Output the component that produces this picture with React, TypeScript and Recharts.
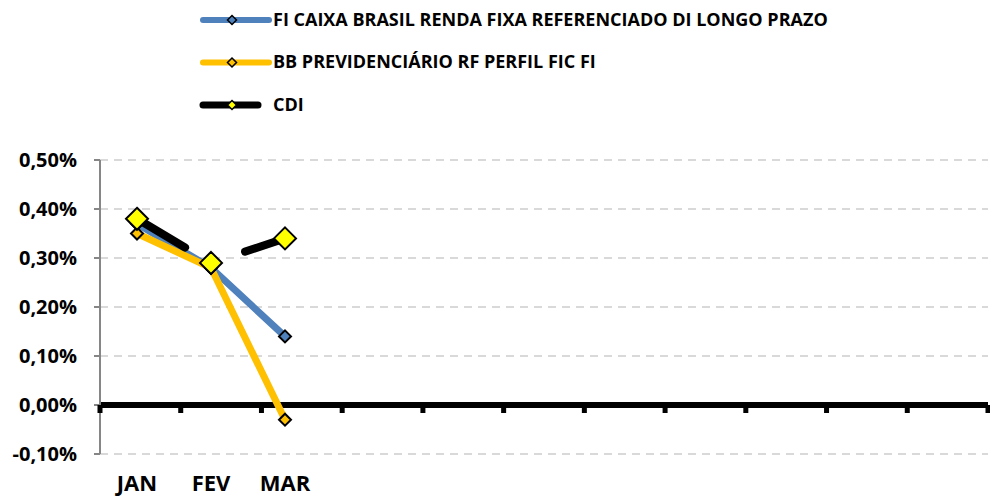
import { LineChart, Line, XAxis, YAxis, CartesianGrid, ReferenceLine, ReferenceDot } from 'recharts';

const months = ['JAN', 'FEV', 'MAR', 'ABR', 'MAI', 'JUN', 'JUL', 'AGO', 'SET', 'OUT', 'NOV', 'DEZ'];
const tickLabels = ['JAN', 'FEV', 'MAR', '', '', '', '', '', '', '', '', ''];
const caixa = [0.37, 0.28, 0.14];
const bbPrev = [0.35, 0.28, -0.03];
const cdi = [0.38, 0.29, 0.34];
const yTicks = [-0.1, 0, 0.1, 0.2, 0.3, 0.4, 0.5];
const seriesNames = [
  'FI CAIXA BRASIL RENDA FIXA REFERENCIADO DI LONGO PRAZO',
  'BB PREVIDENCIÁRIO RF PERFIL FIC FI',
  'CDI',
];

const data = months.map((m, i) => ({
  month: m,
  caixa: caixa[i] ?? null,
  bb: bbPrev[i] ?? null,
  cdi: cdi[i] ?? null,
}));
const boundaries = months.map((_, i) => i);

const FONT = '"Open Sans", Lato, sans-serif';
const fmt = (v: number) => v.toFixed(2).replace('.', ',') + '%';

const diamond = (size: number, fill: string, sw: number) => (props: any) => {
  const { cx, cy, index } = props;
  if (cx == null || cy == null) return <g key={index} />;
  const s = size / 2;
  return (
    <path
      key={index}
      d={`M${cx},${cy - s}L${cx + s},${cy}L${cx},${cy + s}L${cx - s},${cy}Z`}
      fill={fill}
      stroke="#000"
      strokeWidth={sw}
    />
  );
};

const legendRows = [
  { name: seriesNames[0], color: '#4F81BD', marker: '#4F81BD', end: 269, w: 6 },
  { name: seriesNames[1], color: '#FFC000', marker: '#FFC000', end: 269, w: 6 },
  { name: seriesNames[2], color: '#000000', marker: '#FFFF00', end: 258, w: 7 },
];

function Legend() {
  return (
    <svg width={990} height={130} style={{ position: 'absolute', left: 0, top: 0 }}>
      {legendRows.map((r, i) => {
        const y = 20 + i * 42.5;
        return (
          <g key={r.name}>
            <line x1={203} x2={r.end} y1={y} y2={y} stroke={r.color} strokeWidth={r.w} strokeLinecap="round" />
            <path d={`M232,${y - 4.5}L236.5,${y}L232,${y + 4.5}L227.5,${y}Z`} fill={r.marker} stroke="#000" strokeWidth={1.5} />
            <text x={273} y={y - 0.5} dy="0.36em" fontFamily={FONT} fontWeight={700} fontSize={18} fill="#000">
              {r.name}
            </text>
          </g>
        );
      })}
    </svg>
  );
}

export default function App() {
  return (
    <div style={{ position: 'relative', width: 990, height: 499, background: '#fff' }}>
      <style>{'body{margin:0}'}</style>
      <LineChart width={990} height={499} data={data} margin={{ top: 160, right: 2, bottom: 0, left: 0 }}>
        <CartesianGrid vertical={false} stroke="#D9D9D9" strokeWidth={2} strokeDasharray="8 6" />
        <XAxis
          dataKey="month"
          scale="band"
          axisLine={false}
          tickLine={false}
          tickSize={0}
          tickMargin={21}
          height={45}
          interval={0}
          tickFormatter={(_: any, i: number) => tickLabels[i]}
          tick={{ fontFamily: FONT, fontWeight: 700, fontSize: 22, fill: '#000' }}
        />
        <XAxis xAxisId="num" type="number" domain={[0, 12]} hide />
        <YAxis
          type="number"
          domain={[-0.1, 0.5]}
          ticks={yTicks}
          width={100}
          tickFormatter={fmt}
          axisLine={{ stroke: '#868686', strokeWidth: 2 }}
          tickLine={{ stroke: '#868686', strokeWidth: 2 }}
          tickSize={6}
          tickMargin={17}
          tick={{ fontFamily: FONT, fontWeight: 700, fontSize: 20, fill: '#000' }}
        />
        <ReferenceLine y={0} stroke="#000" strokeWidth={6} />
        {boundaries.map((b) => (
          <ReferenceDot
            key={b}
            xAxisId="num"
            x={b}
            y={0}
            shape={(p: any) => <rect x={p.cx - 2.5} y={p.cy} width={5} height={8} fill="#000" />}
          />
        ))}
        <Line dataKey="caixa" stroke="#4F81BD" strokeWidth={7} dot={diamond(12, '#4F81BD', 2)} activeDot={false} isAnimationActive={false} />
        <Line dataKey="bb" stroke="#FFC000" strokeWidth={7} dot={diamond(12, '#FFC000', 2)} activeDot={false} isAnimationActive={false} />
        <Line
          dataKey="cdi"
          stroke="#000"
          strokeWidth={8}
          strokeLinecap="round"
          strokeDasharray="56 66 300"
          dot={diamond(22, '#FFFF00', 2)}
          activeDot={false}
          isAnimationActive={false}
        />
      </LineChart>
      <Legend />
    </div>
  );
}
